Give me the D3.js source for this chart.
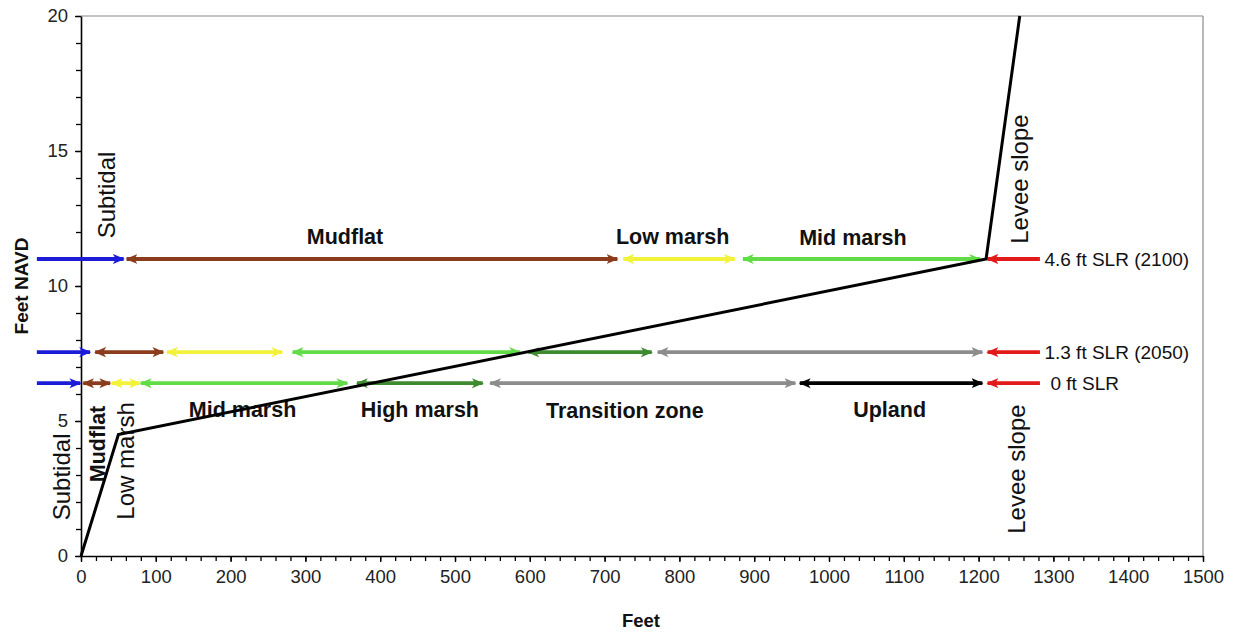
<!DOCTYPE html>
<html>
<head>
<meta charset="utf-8">
<script src="https://cdn.jsdelivr.net/npm/d3@7"></script>
<style>
  html, body { margin: 0; padding: 0; background: #fff; }
  svg { display: block; font-family: "Liberation Sans", Arial, sans-serif; }
</style>
</head>
<body>
<svg id="chart" width="1240" height="636"></svg>
<script>
// ---------------- data ----------------
const xTickValues = [0,100,200,300,400,500,600,700,800,900,1000,1100,1200,1300,1400,1500];
const yTickValues = [0,5,10,15,20];

// elevation profile (feet, feet NAVD)
const profileX = [0, 50, 1210, 1255];
const profileY = [0, 4.5, 11.0, 20];

// habitat zones and their arrow colours
const zoneNames  = ["Subtidal","Mudflat","Low marsh","Mid marsh","High marsh","Transition zone","Upland","Levee slope"];
const zoneColors = ["#1c1cd8","#8a3c1c","#f2f23a","#62dc46","#3e8a2e","#8c8c8c","#000000","#e21a1a"];

// sea level rise scenarios (rows of arrows)
const scenarioLabels = ["0 ft SLR","1.3 ft SLR (2050)","4.6 ft SLR (2100)"];
const scenarioElev   = [6.4, 7.55, 11.0];

// zone extents (feet) per scenario: [zoneIndex, start, end]
const zones0ft  = [[0,-59,-1],[1,3,39],[2,41,79],[3,80,356],[4,369,537],[5,547,955],[6,961,1205],[7,1282,1212]];
const zones13ft = [[0,-59,12],[1,19,110],[2,115,269],[3,283,587],[4,598,763],[5,771,1205],[7,1282,1212]];
const zones46ft = [[0,-59,57],[1,61,717],[2,725,874],[3,885,1202],[7,1282,1212]];

// zone labels (horizontal, bold): [text, x(ft), y(ft NAVD)]
const upperLabels = [["Mudflat",353,11.55],["Low marsh",791,11.55],["Mid marsh",1032,11.52]];
const lowerLabels = [["Mid marsh",216,5.15],["High marsh",453,5.15],["Transition zone",727,5.12],["Upland",1081,5.15]];
// rotated labels: [text, x(ft), y(ft NAVD), bold]
const rotLabels = [
  ["Subtidal",34,13.37,false],
  ["Levee slope",1255,13.96,false],
  ["Subtidal",-26,2.93,false],
  ["Mudflat",22,4.15,true],
  ["Low marsh",60,3.52,false],
  ["Levee slope",1251,3.22,false]
];

// ---------------- layout ----------------
const svg = d3.select("#chart");
const x = d3.scaleLinear().domain([0,1500]).range([81,1203]);
const y = d3.scaleLinear().domain([0,20]).range([556,16]);
const fmt = d3.format("d");

// frame
svg.append("line").attr("x1",x(0)).attr("x2",x(1500)).attr("y1",y(20)).attr("y2",y(20))
  .attr("stroke","#8a8a8a").attr("stroke-width",1.2);
svg.append("line").attr("x1",x(1500)).attr("x2",x(1500)).attr("y1",y(20)).attr("y2",y(0))
  .attr("stroke","#8a8a8a").attr("stroke-width",1.2);

// minor ticks
svg.append("g").attr("transform",`translate(0,${y(0)})`)
  .call(d3.axisBottom(x).tickValues(d3.range(0,1501,20)).tickSize(5).tickFormat("").tickSizeOuter(0))
  .call(g => g.select(".domain").remove())
  .call(g => g.selectAll("line").attr("stroke","#000").attr("stroke-width",1.3));
svg.append("g").attr("transform",`translate(${x(0)},0)`)
  .call(d3.axisLeft(y).tickValues(d3.range(0,21,1)).tickSize(5).tickFormat("").tickSizeOuter(0))
  .call(g => g.select(".domain").remove())
  .call(g => g.selectAll("line").attr("stroke","#000").attr("stroke-width",1.3));

// major axes
svg.append("g").attr("transform",`translate(0,${y(0)})`)
  .call(d3.axisBottom(x).tickValues(xTickValues).tickFormat(fmt).tickSize(6).tickPadding(8).tickSizeOuter(0))
  .call(g => g.select(".domain").attr("stroke","#000").attr("stroke-width",1.6))
  .call(g => g.selectAll("line").attr("stroke","#000").attr("stroke-width",1.3))
  .call(g => g.selectAll("text").attr("font-size",18.5).attr("fill","#222").attr("font-family","Liberation Sans, Arial, sans-serif"));
svg.append("g").attr("transform",`translate(${x(0)},0)`)
  .call(d3.axisLeft(y).tickValues(yTickValues).tickFormat(fmt).tickSize(6).tickPadding(7).tickSizeOuter(0))
  .call(g => g.select(".domain").attr("stroke","#000").attr("stroke-width",1.6))
  .call(g => g.selectAll("line").attr("stroke","#000").attr("stroke-width",1.3))
  .call(g => g.selectAll("text").attr("font-size",18.5).attr("fill","#222").attr("font-family","Liberation Sans, Arial, sans-serif"));

// axis titles
svg.append("text").attr("x",641).attr("y",627).attr("text-anchor","middle")
  .attr("font-weight","bold").attr("font-size",18.5).attr("fill","#111").text("Feet");
svg.append("text").attr("transform",`translate(28,${y(10.0)}) rotate(-90)`).attr("text-anchor","middle")
  .attr("font-weight","bold").attr("font-size",19).attr("fill","#111").text("Feet NAVD");

// arrow markers
const defs = svg.append("defs");
zoneColors.forEach((c,i) => {
  defs.append("marker").attr("id","end"+i).attr("viewBox","0 0 10 10")
    .attr("refX",9).attr("refY",5).attr("markerUnits","userSpaceOnUse")
    .attr("markerWidth",12).attr("markerHeight",12).attr("orient","auto")
    .append("path").attr("d","M0,0.8 L10,5 L0,9.2 L2.5,5 Z").attr("fill",c);
  defs.append("marker").attr("id","start"+i).attr("viewBox","0 0 10 10")
    .attr("refX",1).attr("refY",5).attr("markerUnits","userSpaceOnUse")
    .attr("markerWidth",12).attr("markerHeight",12).attr("orient","auto")
    .append("path").attr("d","M10,0.8 L0,5 L10,9.2 L7.5,5 Z").attr("fill",c);
});

const rows = [zones0ft, zones13ft, zones46ft];
rows.forEach((segs, r) => {
  const yy = y(scenarioElev[r]);
  const g = svg.append("g");
  segs.forEach(([zi, s, e]) => {
    const single = (zi === 0 || zi === 7);
    const ln = g.append("line")
      .attr("x1", x(s)).attr("x2", x(e)).attr("y1", yy).attr("y2", yy)
      .attr("stroke", zoneColors[zi]).attr("stroke-width", 3.8)
      .attr("marker-end", `url(#end${zi})`);
    if (!single) ln.attr("marker-start", `url(#start${zi})`);
  });
  svg.append("text").attr("x", x(1288)).attr("y", yy).attr("dy","0.35em")
    .attr("font-size",19).attr("fill","#111")
    .attr("dx", r === 0 ? 6 : 0)
    .text(scenarioLabels[r]);
});

// zone labels
upperLabels.concat(lowerLabels).forEach(([t, xv, yv]) => {
  svg.append("text").attr("x", x(xv)).attr("y", y(yv)).attr("text-anchor","middle")
    .attr("font-weight","bold").attr("font-size",21.5).attr("fill","#111").text(t);
});
rotLabels.forEach(([t, xv, yv, b]) => {
  svg.append("text").attr("transform", `translate(${x(xv)},${y(yv)}) rotate(-90)`)
    .attr("text-anchor","middle").attr("dy","0.35em")
    .attr("font-weight", b ? "bold" : "normal")
    .attr("font-size", b ? 21.5 : 24).attr("fill","#111").text(t);
});

// elevation profile
svg.append("path")
  .datum(profileX.map((v,i) => [v, profileY[i]]))
  .attr("d", d3.line().x(d => x(d[0])).y(d => y(d[1])))
  .attr("fill","none").attr("stroke","#000").attr("stroke-width",3);
</script>
</body>
</html>
